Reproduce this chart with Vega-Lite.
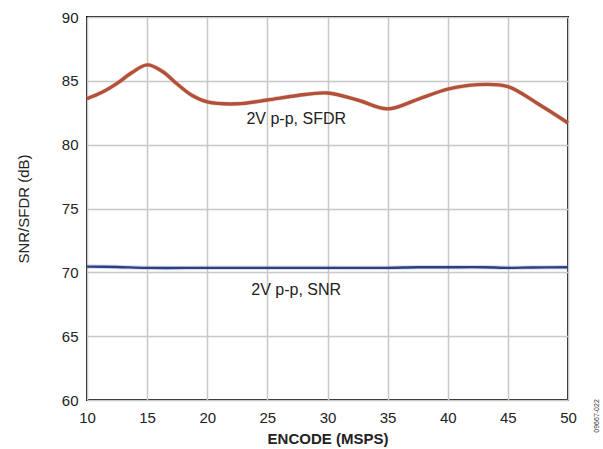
{
  "$schema": "https://vega.github.io/schema/vega-lite/v6.json",
  "width": 481,
  "height": 383,
  "autosize": {"type": "none"},
  "padding": {"left": 87, "top": 17, "right": 35, "bottom": 49},
  "background": "white",
  "config": {
    "view": {"stroke": "#111111", "strokeWidth": 2},
    "font": "Liberation Sans",
    "axis": {
      "grid": true,
      "gridColor": "#c8c8c8",
      "gridWidth": 1.5,
      "domain": false,
      "ticks": false,
      "labelFlush": false,
      "labelOverlap": false,
      "labelFont": "Liberation Sans",
      "labelFontSize": 15,
      "labelColor": "#222222",
      "titleFont": "Liberation Sans",
      "titleFontSize": 15,
      "titleColor": "#222222"
    }
  },
  "datasets": {
    "curves": [
      {"encode": 10, "db": 83.6, "series": "SFDR"},
      {"encode": 11.25, "db": 84.1, "series": "SFDR"},
      {"encode": 12.5, "db": 84.8, "series": "SFDR"},
      {"encode": 13.75, "db": 85.65, "series": "SFDR"},
      {"encode": 15, "db": 86.25, "series": "SFDR"},
      {"encode": 16.25, "db": 85.75, "series": "SFDR"},
      {"encode": 17.5, "db": 84.75, "series": "SFDR"},
      {"encode": 18.75, "db": 83.85, "series": "SFDR"},
      {"encode": 20, "db": 83.35, "series": "SFDR"},
      {"encode": 22.5, "db": 83.2, "series": "SFDR"},
      {"encode": 25, "db": 83.5, "series": "SFDR"},
      {"encode": 27.5, "db": 83.85, "series": "SFDR"},
      {"encode": 30, "db": 84.05, "series": "SFDR"},
      {"encode": 32.5, "db": 83.5, "series": "SFDR"},
      {"encode": 35, "db": 82.8, "series": "SFDR"},
      {"encode": 37.5, "db": 83.55, "series": "SFDR"},
      {"encode": 40, "db": 84.35, "series": "SFDR"},
      {"encode": 42.5, "db": 84.7, "series": "SFDR"},
      {"encode": 45, "db": 84.55, "series": "SFDR"},
      {"encode": 47.5, "db": 83.2, "series": "SFDR"},
      {"encode": 50, "db": 81.7, "series": "SFDR"},
      {"encode": 10, "db": 70.45, "series": "SNR"},
      {"encode": 12.5, "db": 70.42, "series": "SNR"},
      {"encode": 15, "db": 70.35, "series": "SNR"},
      {"encode": 20, "db": 70.35, "series": "SNR"},
      {"encode": 25, "db": 70.35, "series": "SNR"},
      {"encode": 30, "db": 70.35, "series": "SNR"},
      {"encode": 35, "db": 70.35, "series": "SNR"},
      {"encode": 37.5, "db": 70.4, "series": "SNR"},
      {"encode": 40, "db": 70.4, "series": "SNR"},
      {"encode": 43, "db": 70.4, "series": "SNR"},
      {"encode": 45, "db": 70.35, "series": "SNR"},
      {"encode": 47, "db": 70.38, "series": "SNR"},
      {"encode": 50, "db": 70.4, "series": "SNR"}
    ],
    "labels": [
      {"encode": 27.4, "db": 82.0, "text": "2V p-p, SFDR"},
      {"encode": 27.4, "db": 68.6, "text": "2V p-p, SNR"}
    ],
    "code": [
      {"encode": 52.4, "db": 58.75, "text": "09667-022"}
    ]
  },
  "layer": [
    {
      "data": {"name": "curves"},
      "mark": {"type": "line", "interpolate": "catmull-rom", "strokeWidth": 4.5, "opacity": 0.35},
      "encoding": {
        "x": {"field": "encode", "type": "quantitative", "scale": {"domain": [10, 50]}, "axis": {"values": [10, 15, 20, 25, 30, 35, 40, 45, 50], "title": "ENCODE (MSPS)", "titleFontWeight": "bold", "labelPadding": 10, "titlePadding": 6}},
        "y": {"field": "db", "type": "quantitative", "scale": {"domain": [60, 90]}, "axis": {"values": [60, 65, 70, 75, 80, 85, 90], "title": "SNR/SFDR (dB)", "titleFontWeight": "normal", "labelPadding": 9, "titlePadding": 30}},
        "color": {"field": "series", "type": "nominal", "scale": {"domain": ["SFDR", "SNR"], "range": ["#d9917f", "#8a9ac4"]}, "legend": null}
      }
    },
    {
      "data": {"name": "curves"},
      "mark": {"type": "line", "interpolate": "catmull-rom"},
      "encoding": {
        "x": {"field": "encode", "type": "quantitative"},
        "y": {"field": "db", "type": "quantitative"},
        "color": {"field": "series", "type": "nominal", "scale": {"domain": ["SFDR", "SNR"], "range": ["#b2503a", "#2c3f80"]}, "legend": null},
        "strokeWidth": {"field": "series", "type": "nominal", "scale": {"domain": ["SFDR", "SNR"], "range": [3.4, 2.4]}, "legend": null}
      }
    },
    {
      "data": {"name": "labels"},
      "mark": {"type": "text", "fontSize": 16, "font": "Liberation Sans", "color": "#222222", "align": "center", "baseline": "middle"},
      "encoding": {
        "x": {"field": "encode", "type": "quantitative"},
        "y": {"field": "db", "type": "quantitative"},
        "text": {"field": "text"}
      }
    },
    {
      "data": {"name": "code"},
      "mark": {"type": "text", "fontSize": 7, "angle": 270, "color": "#333333", "align": "center", "baseline": "middle", "clip": false},
      "encoding": {
        "x": {"field": "encode", "type": "quantitative"},
        "y": {"field": "db", "type": "quantitative"},
        "text": {"field": "text"}
      }
    }
  ],
  "resolve": {"scale": {"color": "independent"}}
}
